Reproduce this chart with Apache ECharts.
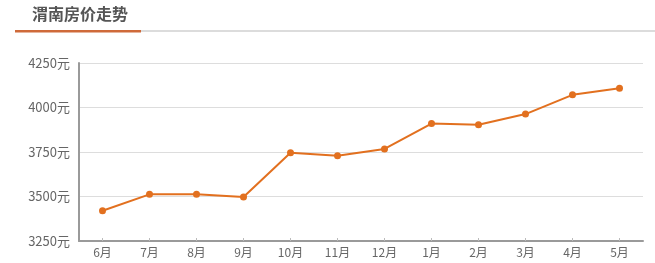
<!DOCTYPE html>
<html>
<head>
<meta charset="utf-8">
<script src="https://cdn.jsdelivr.net/npm/echarts@6/dist/echarts.min.js"></script>
<style>
html,body{margin:0;padding:0;background:#fff;}
#c{width:655px;height:263px;}
</style>
</head>
<body>
<div id="c"></div>
<script>
var titleText = '渭南房价走势';
var categories = ['6月','7月','8月','9月','10月','11月','12月','1月','2月','3月','4月','5月'];
var prices = [3420, 3512, 3512, 3497, 3746, 3729, 3767, 3910, 3903, 3963, 4071, 4108];
var yTicks = [3250, 3500, 3750, 4000, 4250];

var chart = echarts.init(document.getElementById('c'), null, {renderer:'canvas'});
chart.setOption({
  animation: false,
  backgroundColor: '#fff',
  graphic: [
    {type:'text', left:32, top:6, style:{text:titleText, fontSize:16, fontWeight:'bold', fill:'#555', fontFamily:'Noto Sans CJK SC'}},
    {type:'rect', shape:{x:141, y:30, width:514, height:2}, style:{fill:'#dcdcdc'}},
    {type:'rect', shape:{x:15, y:30, width:126, height:2.5}, style:{fill:'#cf6a3a'}}
  ],
  grid: {left:79, right:12, top:63, bottom:22},
  xAxis: {
    type:'category',
    data: categories,
    boundaryGap: true,
    axisLine:{lineStyle:{color:'#9a9a9a', width:2}},
    axisTick:{show:true, alignWithLabel:true, inside:true, length:3, lineStyle:{color:'#bbb'}},
    axisLabel:{color:'#666', fontSize:12, margin:5, fontFamily:'Noto Sans CJK SC'}
  },
  yAxis: {
    type:'value',
    min: yTicks[0], max: yTicks[yTicks.length-1], interval: 250,
    axisLine:{show:true, lineStyle:{color:'#9a9a9a', width:2}},
    axisTick:{show:false},
    splitLine:{lineStyle:{color:'#ddd', width:1}},
    axisLabel:{color:'#666', fontSize:13, margin:9, formatter:function(v){return v+'元';}, fontFamily:'Noto Sans CJK SC'}
  },
  series: [{
    type:'line',
    data: prices,
    symbol:'circle',
    symbolSize:7,
    itemStyle:{color:'#e2701f'},
    lineStyle:{color:'#e2701f', width:2}
  }]
});
</script>
</body>
</html>
